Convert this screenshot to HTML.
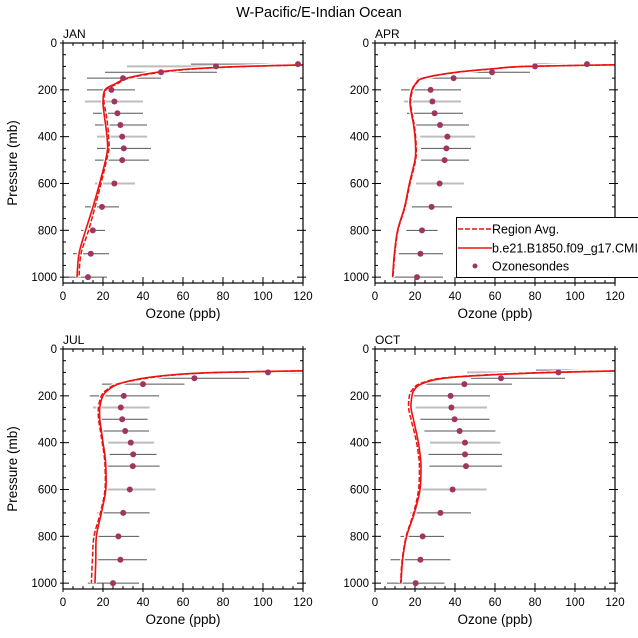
<!DOCTYPE html>
<html><head><meta charset="utf-8"><style>
html,body{margin:0;padding:0;background:#fff;}
svg{display:block;font-family:"Liberation Sans",Arial,sans-serif;}
</style></head><body>
<svg id="chart" width="638" height="638" viewBox="0 0 638 638" xmlns="http://www.w3.org/2000/svg">
<text x="319" y="17" text-anchor="middle" font-size="14.5">W-Pacific/E-Indian Ocean</text>
</svg>
<script>
// ---- data ----
const panelNames = ["JAN","APR","JUL","OCT"];
const obsLevels = [90,100,125,150,200,250,300,350,400,450,500,600,700,800,900,1000];
const obsJAN = [117.5,76.5,49,30,24.2,25.7,27.2,28.7,29.6,30.4,29.6,25.7,19.5,14.9,13.9,12.5];
const obsAPR = [106,80,58.5,39.3,27.8,28.7,29.8,32.5,36.2,35.7,34.8,32.3,28.3,23.5,22.7,21];
const obsJUL = [null,102.5,65.7,40,30.4,28.9,29.6,31.1,33.9,35.1,34.9,33.4,30.1,27.7,28.7,25];
const obsOCT = [null,91.7,63,44.7,37.8,38.2,39.8,42.3,45,45,45.5,38.8,32.7,23.8,22.7,20.3];
const errLoJAN = [64,32,21,12,12,11,15,16,17,17,16,16,11,9,5,3];
const errHiJAN = [125,91,77,49,36,40,40,42,42,44,43,36,28,21,23,22];
const errLoAPR = [79,80,40.5,21,13,14.5,16,19,22.7,23,23,20.5,18.5,15.7,12,9];
const errHiAPR = [125,103,77.5,58,43,43,44,47,50,48,47,44.5,38.5,31.3,34,34];
const errLoJUL = [null,62,38,19.5,13.4,15,17,19.2,22.6,23.4,21.7,21.4,17.2,17.7,16,12.4];
const errHiJUL = [null,125,93,60.7,48,43.3,42.3,43,45.6,46.8,48.3,46.3,43.3,38.1,42,38.1];
const errLoOCT = [80.5,46,48,21,19.3,20.3,22.7,24.7,27.5,26.8,27.2,23,17.7,12.7,7.8,6];
const errHiOCT = [125,125,95,68.5,57.5,56,57.2,60.2,62.7,63.5,63.5,55.8,48,34.5,37.7,34.7];
const grayLevels = [100,250,400,600];
const modelLevels = [92,100,110,125,150,175,200,250,300,350,400,450,500,600,700,800,900,1000];
const solidJAN = [130,90,65,47,32,26,21,20,20.5,21.3,22,22.3,21.3,18.3,15,11.3,8,7];
const dashJAN  = [130,92,67,49,33,27,21.5,20.5,21.5,22.3,22.8,23,21.8,19,16,12.8,9,8];
const solidAPR = [130,75,59,40.5,24,20.2,18.5,17.5,18.2,19.3,20,20.3,20,17.2,14.8,11.3,9.7,8.8];
const dashAPR  = [130,76,60,41,24.5,20.5,18.8,17.8,18.5,19.6,20.3,20.6,20.3,17.5,15,11.5,9.9,9];
const solidJUL = [130,77,55,40,27.6,22.6,20,18.4,18.4,19.2,20,20.9,21.4,21.4,19.2,16.7,16.4,16];
const dashJUL  = [130,79,57,41.5,27,21.8,19.2,17.7,17.8,18.7,19.6,20.5,21,21,18.7,15.5,14.7,14.2];
const solidOCT = [130,89,59,34,23,19.6,18.5,18,19.2,20.5,21.7,22.5,23,22.5,19.7,15.8,13.8,13];
const dashOCT  = [130,87,57,33,22,18.6,17.2,16.8,18,19.5,20.8,21.7,22.2,21.8,19.3,15.6,13.6,12.8];
const xTicks = [0,20,40,60,80,100,120];
const yTicks = [0,200,400,600,800,1000];

const panels = [
  {name:"JAN",x0:63,y0:43,obs:obsJAN,lo:errLoJAN,hi:errHiJAN,s:solidJAN,d:dashJAN,ylab:true},
  {name:"APR",x0:375,y0:43,obs:obsAPR,lo:errLoAPR,hi:errHiAPR,s:solidAPR,d:dashAPR,ylab:false},
  {name:"JUL",x0:63,y0:349,obs:obsJUL,lo:errLoJUL,hi:errHiJUL,s:solidJUL,d:dashJUL,ylab:true},
  {name:"OCT",x0:375,y0:349,obs:obsOCT,lo:errLoOCT,hi:errHiOCT,s:solidOCT,d:dashOCT,ylab:false}
];
const W=240, H=240, PMAX=1025;
const NS="http://www.w3.org/2000/svg";
const svg=document.getElementById('chart');
function mk(tag,attrs,parent){const e=document.createElementNS(NS,tag);for(const k in attrs)e.setAttribute(k,attrs[k]);(parent||svg).appendChild(e);return e;}
function smoothPath(P){
  let d='M'+P[0][0].toFixed(2)+','+P[0][1].toFixed(2);
  for(let i=0;i<P.length-1;i++){
    const p0=P[Math.max(0,i-1)],p1=P[i],p2=P[i+1],p3=P[Math.min(P.length-1,i+2)];
    const c1=[p1[0]+(p2[0]-p0[0])/6,p1[1]+(p2[1]-p0[1])/6];
    const c2=[p2[0]-(p3[0]-p1[0])/6,p2[1]-(p3[1]-p1[1])/6];
    d+=` C${c1[0].toFixed(2)},${c1[1].toFixed(2)} ${c2[0].toFixed(2)},${c2[1].toFixed(2)} ${p2[0].toFixed(2)},${p2[1].toFixed(2)}`;
  }
  return d;
}

panels.forEach((p,pi)=>{
  const X=v=>p.x0+v/120*W;
  const Y=v=>p.y0+v/PMAX*H;
  const g=mk('g',{});
  
  
  const cid='clip'+pi;
  const cp=mk('clipPath',{id:cid},g);
  mk('rect',{x:p.x0,y:p.y0,width:W,height:H},cp);
  const lbl=mk('text',{x:p.x0,y:p.y0-5,'font-size':12},g);
  lbl.textContent=p.name;
  
  
  for(let v=0;v<=120;v+=5){
    const major=v%20===0, L=major?6:3;
    mk('line',{x1:X(v),x2:X(v),y1:p.y0+H,y2:p.y0+H-L,stroke:'#000','stroke-width':1},g);
    mk('line',{x1:X(v),x2:X(v),y1:p.y0,y2:p.y0+L,stroke:'#000','stroke-width':1},g);
    if(major){mk('line',{x1:X(v),x2:X(v),y1:p.y0+H,y2:p.y0+H+3,stroke:'#000'},g);mk('line',{x1:X(v),x2:X(v),y1:p.y0,y2:p.y0-3,stroke:'#000'},g);}
  }
  for(let v=0;v<=1000;v+=50){
    const major=v%200===0, L=major?6:3;
    mk('line',{x1:p.x0,x2:p.x0+L,y1:Y(v),y2:Y(v),stroke:'#000'},g);
    mk('line',{x1:p.x0+W,x2:p.x0+W-L,y1:Y(v),y2:Y(v),stroke:'#000'},g);
    if(major){mk('line',{x1:p.x0,x2:p.x0-3,y1:Y(v),y2:Y(v),stroke:'#000'},g);mk('line',{x1:p.x0+W,x2:p.x0+W+3,y1:Y(v),y2:Y(v),stroke:'#000'},g);}
  }
  xTicks.forEach(v=>{const t=mk('text',{x:X(v),y:p.y0+H+17,'text-anchor':'middle','font-size':11.5},g);t.textContent=v;
    
    });
  yTicks.forEach(v=>{const t=mk('text',{x:p.x0-6,y:Y(v)+4,'text-anchor':'end','font-size':11.5},g);t.textContent=v;
    
    });
  const xt=mk('text',{x:p.x0+W/2,y:p.y0+H+35,'text-anchor':'middle','font-size':13.5},g);xt.textContent='Ozone (ppb)';
  
  
  if(p.ylab){const yt=mk('text',{x:0,y:0,'text-anchor':'middle','font-size':13.5,transform:`translate(17,${p.y0+H/2}) rotate(-90)`},g);yt.textContent='Pressure (mb)';
    
    }
  const pg=mk('g',{'clip-path':`url(#${cid})`},g);
  obsLevels.forEach((lev,i)=>{
    if(p.lo[i]==null)return;
    const gray=grayLevels.includes(lev);
    const e=mk('line',{x1:X(p.lo[i]),x2:X(p.hi[i]),y1:Y(lev),y2:Y(lev),stroke:gray?'#bdbdbd':'#555','stroke-width':gray?2:1},pg);
    
    
  });
  const pts=arr=>smoothPath(arr.map((v,i)=>[X(v),Y(modelLevels[i])]));
  mk('path',{d:pts(p.s),fill:'none',stroke:'#fff','stroke-width':4},pg);
  mk('path',{d:pts(p.d),fill:'none',stroke:'#fff','stroke-width':4},pg);
  const dl=mk('path',{d:pts(p.d),fill:'none',stroke:'#ee1111','stroke-width':1.5,'stroke-dasharray':'5,2'},pg);
  
  
  const sl=mk('path',{d:pts(p.s),fill:'none',stroke:'#ee1111','stroke-width':1.6},pg);
  
  
  obsLevels.forEach((lev,i)=>{
    if(p.obs[i]==null)return;
    const c=mk('circle',{cx:X(p.obs[i]),cy:Y(lev),r:3,fill:'#a03560'},g);
    
    
  });
  mk('rect',{x:p.x0,y:p.y0,width:W,height:H,fill:'none',stroke:'#000','stroke-width':1.2},g);
});
const lg=mk('g',{});


mk('rect',{x:456.5,y:217.5,width:190,height:60,fill:'#fff',stroke:'#000','stroke-width':1},lg);
const le=[['Region Avg.','dash',229],['b.e21.B1850.f09_g17.CMI','solid',248],['Ozonesondes','dot',266]];
le.forEach(([t,k,y])=>{
  const eg=mk('g',{},lg);
  
  
  if(k==='dot')mk('circle',{cx:475,cy:y,r:2.5,fill:'#a03560'},eg);
  else mk('line',{x1:458,x2:492,y1:y,y2:y,stroke:'#ee1111','stroke-width':1.4,'stroke-dasharray':k==='dash'?'5,2':'none'},eg);
  const tx=mk('text',{x:492,y:y+4.5,'font-size':12.5},eg);tx.textContent=t;
});
</script>
</body></html>
